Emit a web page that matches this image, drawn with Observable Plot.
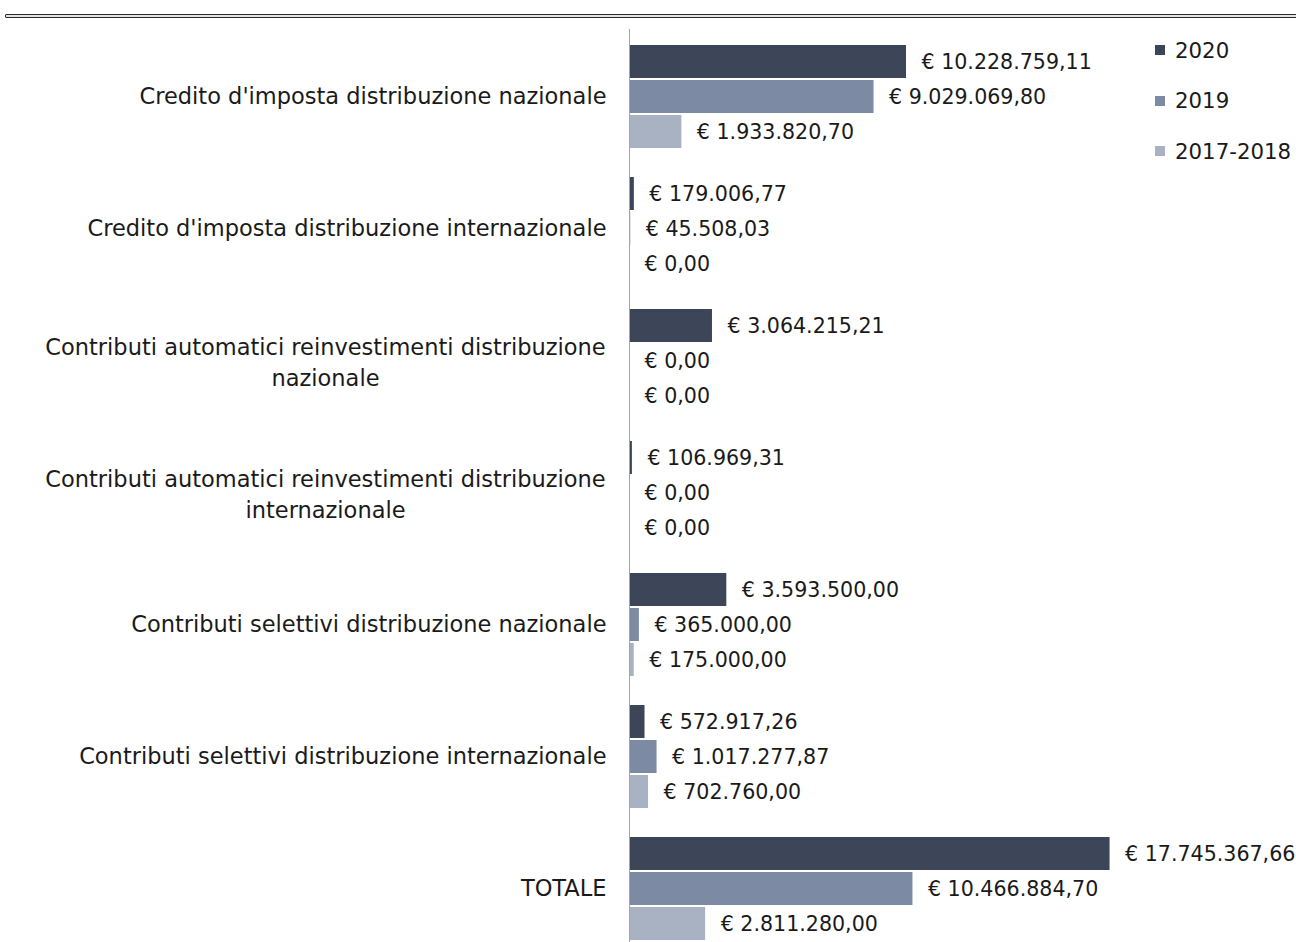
<!DOCTYPE html>
<html>
<head>
<meta charset="utf-8">
<script src="https://cdn.jsdelivr.net/npm/d3@7"></script>
<script src="https://cdn.jsdelivr.net/npm/@observablehq/plot@0.6"></script>
<style>
html, body { margin: 0; padding: 0; background: #fff; overflow: hidden; }
body { width: 1296px; height: 942px; position: relative; font-family: "DejaVu Sans", sans-serif; }
#topline { position: absolute; left: 5px; right: -10px; top: 14px; height: 2px; border: 1.5px solid #2b2b2b; background: #e4e4e4; border-radius: 1px; }
#chart { position: absolute; left: 0; top: 0; }
#legend { position: absolute; left: 1155px; top: 36px; font-size: 21.3px; color: #1a1a1a; }
.item { display: flex; align-items: center; height: 28px; margin-bottom: 22.5px; }
.sw { width: 10px; height: 10px; margin-right: 10px; }
</style>
</head>
<body>
<div id="topline"></div>
<div id="chart"></div>
<div id="legend"></div>
<script>
const categories = [
  "Credito d'imposta distribuzione nazionale",
  "Credito d'imposta distribuzione internazionale",
  "Contributi automatici reinvestimenti distribuzione\nnazionale",
  "Contributi automatici reinvestimenti distribuzione\ninternazionale",
  "Contributi selettivi distribuzione nazionale",
  "Contributi selettivi distribuzione internazionale",
  "TOTALE"
];
const series = ["2020", "2019", "2017-2018"];
const values2020 = [10228759.11, 179006.77, 3064215.21, 106969.31, 3593500.00, 572917.26, 17745367.66];
const values2019 = [9029069.80, 45508.03, 0, 0, 365000.00, 1017277.87, 10466884.70];
const values2017_2018 = [1933820.70, 0, 0, 0, 175000.00, 702760.00, 2811280.00];
const colors = ["#3d4658", "#7d8aa3", "#a9b2c3"];

const seriesValues = [values2020, values2019, values2017_2018];
const data = [];
categories.forEach((c, i) => {
  series.forEach((s, j) => data.push({cat: c, series: s, value: seriesValues[j][i]}));
});

const fmt = d3.formatLocale({decimal: ",", thousands: ".", grouping: [3], currency: ["€ ", ""]}).format("$,.2f");

const single = categories.filter(c => !c.includes("\n"));
const multi = categories.filter(c => c.includes("\n"));

const chart = Plot.plot({
  width: 1296,
  height: 942,
  marginLeft: 629,
  marginRight: 0,
  marginTop: 29,
  marginBottom: 0,
  style: {fontFamily: "DejaVu Sans", fontSize: "20px", background: "transparent"},
  x: {domain: [0, 24630000], axis: null},
  fy: {domain: categories, paddingInner: 0.2136, paddingOuter: 0.0588, align: 0.9, axis: null},
  y: {domain: series, paddingInner: 0.07, paddingOuter: 0, axis: null},
  color: {domain: series, range: colors},
  marks: [
    Plot.barX(data, {fy: "cat", y: "series", x: "value", fill: "series"}),
    Plot.text(data, {fy: "cat", y: "series", x: "value", text: d => fmt(d.value), textAnchor: "start", dx: 15, fontSize: 20.6, fill: "#1a1a1a"}),
    Plot.text(single, {fy: d => d, frameAnchor: "left", text: d => d, textAnchor: "end", dx: -23, fontSize: 22.5, fill: "#1a1a1a"}),
    Plot.text(multi, {fy: d => d, frameAnchor: "left", text: d => d, textAnchor: "middle", dx: -304, lineHeight: 1.38, fontSize: 22.5, fill: "#1a1a1a"}),
    Plot.ruleX([0], {stroke: "#9aa5b8", strokeWidth: 1, insetTop: -15, insetBottom: -15})
  ]
});
document.getElementById("chart").appendChild(chart);

const legend = document.getElementById("legend");
series.forEach((s, i) => {
  const it = document.createElement("div");
  it.className = "item";
  const sw = document.createElement("span");
  sw.className = "sw";
  sw.style.background = colors[i];
  const t = document.createElement("span");
  t.textContent = s;
  it.appendChild(sw);
  it.appendChild(t);
  legend.appendChild(it);
});
</script>
</body>
</html>
